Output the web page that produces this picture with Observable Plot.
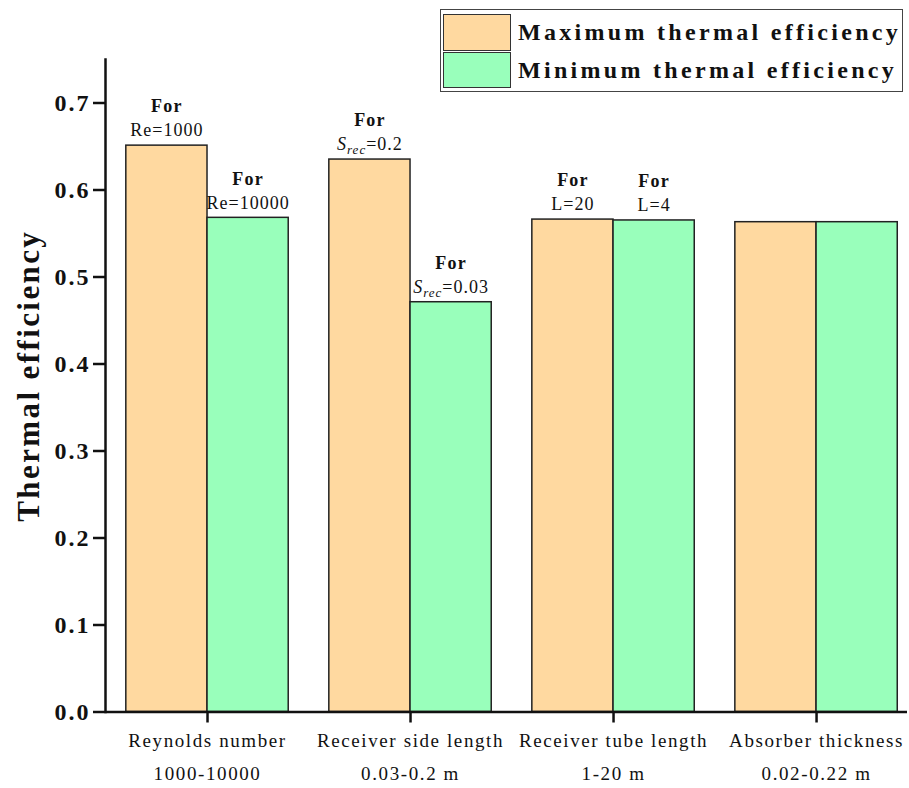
<!DOCTYPE html>
<html><head><meta charset="utf-8">
<script src="https://cdn.jsdelivr.net/npm/d3@7"></script>
<script src="https://cdn.jsdelivr.net/npm/@observablehq/plot@0.6"></script>
<style>
body{margin:0;background:#fff;}
#wrap{position:relative;width:909px;height:788px;font-family:"Liberation Serif","Times New Roman",serif;}
#chart svg{display:block;}
.box{position:absolute;left:440px;top:9px;width:463px;height:83px;border:1.5px solid #444;box-sizing:border-box;background:#fff;}
.sw{position:absolute;left:443px;width:68px;border:1.5px solid #333;box-sizing:border-box;}
.lab{position:absolute;left:518px;font-weight:bold;font-size:24px;letter-spacing:3.3px;color:#111;white-space:nowrap;}
</style></head>
<body><div id="wrap"><div id="chart"></div></div>
<script>
const categories = ["Reynolds number", "Receiver side length", "Receiver tube length", "Absorber thickness"];
const ranges = ["1000-10000", "0.03-0.2 m", "1-20 m", "0.02-0.22 m"];
const series = ["Maximum thermal efficiency", "Minimum thermal efficiency"];
const maxEff = [0.651, 0.635, 0.566, 0.563];
const minEff = [0.568, 0.471, 0.565, 0.563];
const maxNote = ["Re=1000", "S_rec=0.2", "L=20", ""];
const minNote = ["Re=10000", "S_rec=0.03", "L=4", ""];
const colors = ["#FFD9A0", "#99FFBB"];
const yTicks = [0, 0.1, 0.2, 0.3, 0.4, 0.5, 0.6, 0.7];

const half = 0.4;
const rows = [];
categories.forEach((c, i) => {
  rows.push({i, cat: c, s: series[0], v: maxEff[i], note: maxNote[i], x1: i - half, x2: i, y0: 0});
  rows.push({i, cat: c, s: series[1], v: minEff[i], note: minNote[i], x1: i, x2: i + half, y0: 0});
});
const catRows = categories.map((c, i) => ({i, name: c, range: ranges[i]}));
const noted = rows.filter(d => d.note);

const plot = Plot.plot({
  width: 909, height: 788,
  marginLeft: 105, marginRight: 2, marginTop: 59, marginBottom: 76.5,
  x: {domain: [-0.5025, 3.448]},
  y: {domain: [0, 0.75]},
  color: {domain: series, range: colors},
  style: {fontFamily: "'Liberation Serif','Times New Roman',serif", color: "#111", background: "transparent"},
  marks: [
    Plot.rect(rows, {x1: "x1", x2: "x2", y1: "y0", y2: "v", fill: "s", stroke: "#222", strokeWidth: 1.5}),
    Plot.ruleY([0], {strokeWidth: 2.5, stroke: "#111"}),
    Plot.frame({anchor: "left", strokeWidth: 2.5, stroke: "#111"}),
    Plot.axisY({ticks: yTicks, tickFormat: ".1f", tickSize: 12, tickPadding: 3, fontSize: 24, fontWeight: "bold", label: null, strokeWidth: 2.5}),
    Plot.axisX({ticks: [0, 1, 2, 3], tickSize: 11, tickFormat: () => "", label: null, strokeWidth: 2.5}),
    Plot.text(noted, {x: d => (d.x1 + d.x2) / 2, y: "v", text: () => "For", dy: -39, fontSize: 18, fontWeight: "bold"}),
    Plot.text(noted, {x: d => (d.x1 + d.x2) / 2, y: "v", text: "note", dy: -15, fontSize: 18}),
    Plot.text(catRows, {x: "i", text: "name", frameAnchor: "bottom", dy: 35, fontSize: 19}),
    Plot.text(catRows, {x: "i", text: "range", frameAnchor: "bottom", dy: 68, fontSize: 19}),
    Plot.text(["Thermal efficiency"], {frameAnchor: "left", textAnchor: "middle", rotate: -90, dx: -76, dy: -10, fontSize: 31, fontWeight: "bold"})
  ]
});
document.getElementById("chart").appendChild(plot);

const svg = d3.select(plot);
svg.selectAll('g[aria-label="y-axis tick label"] text').style("letter-spacing", "2px");
const textGroups = svg.selectAll('g[aria-label="text"]').nodes();
const spacing = ["1.2px", "1px", "1.6px", "1.6px", "2.4px"];
textGroups.forEach((g, k) => d3.select(g).selectAll("text").style("letter-spacing", spacing[k] || null));
// rich text for S_rec labels
svg.selectAll("text").each(function() {
  const t = d3.select(this);
  const s = this.textContent;
  if (/^S_rec/.test(s) && this.children.length === 0) {
    const rest = s.slice(5);
    t.text(null);
    t.append("tspan").style("font-style", "italic").text("S");
    t.append("tspan").style("font-style", "italic").attr("font-size", 13).attr("dy", 4).text("rec");
    t.append("tspan").attr("dy", -4).text(rest);
  }
});

// legend
const wrap = d3.select("#wrap");
wrap.append("div").attr("class", "box");
const legendTops = [14, 52];
const legendH = [37, 36];
series.forEach((s, k) => {
  wrap.append("div").attr("class", "sw").style("top", legendTops[k] + "px").style("height", legendH[k] + "px").style("background", colors[k]);
  wrap.append("div").attr("class", "lab").style("top", legendTops[k] + "px").style("height", legendH[k] + "px").style("line-height", legendH[k] + "px").text(s);
});
</script>
</body></html>
